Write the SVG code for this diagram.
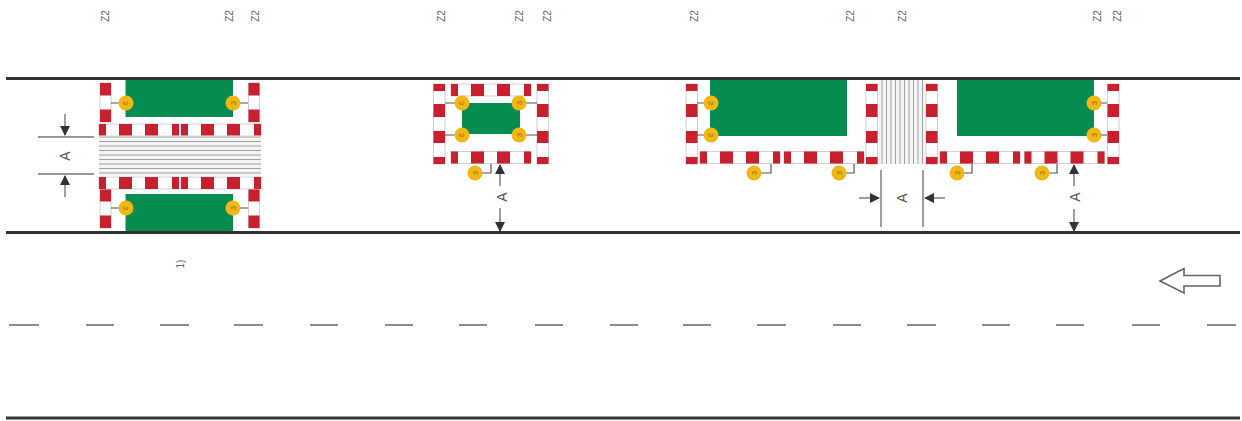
<svg xmlns="http://www.w3.org/2000/svg" width="1242" height="421" viewBox="0 0 1242 421">
<style>
.road{stroke:#333;stroke-width:3;fill:none}
.dash{stroke:#666;stroke-width:1.6;fill:none}
.w{fill:#fff;stroke:#cfcfcf;stroke-width:1}
.r{fill:#c9202f}
.g{fill:#078c50}
.ln{stroke:#a0a0a0;stroke-width:1;fill:none}
.dim{stroke:#777;stroke-width:1.4;fill:none}
.lead{stroke:#555;stroke-width:1.2;fill:none}
.c{fill:#f3b715}
.t{font-family:"Liberation Sans",Arial,sans-serif;fill:#666;text-anchor:middle}
.z{font-size:10px}
.a{font-size:14px;fill:#555}
.n{font-size:8px;fill:#8a6f10}
</style>
<defs>
<marker id="ah" viewBox="0 0 10 10" refX="9" refY="5" markerWidth="10" markerHeight="10" markerUnits="userSpaceOnUse" orient="auto"><path d="M0 0L10 5L0 10Z" fill="#333"/></marker>
<g id="h"><rect class="w" x="0" y="0" width="80" height="12"/><rect class="r" x="0" y="0" width="7" height="12"/><rect class="r" x="20" y="0" width="13" height="12"/><rect class="r" x="46" y="0" width="13" height="12"/><rect class="r" x="73" y="0" width="7" height="12"/></g>
<g id="v"><rect class="w" x="0" y="0" width="11.500" height="80"/><rect class="r" x="0" y="0" width="11.500" height="7"/><rect class="r" x="0" y="20" width="11.500" height="13"/><rect class="r" x="0" y="47" width="11.500" height="12"/><rect class="r" x="0" y="73" width="11.500" height="7"/></g>
<g id="s"><rect class="w" x="0" y="0" width="11" height="39"/><rect class="r" x="0" y="0" width="11" height="12.500"/><rect class="r" x="0" y="26.500" width="11" height="12.500"/></g>
<g id="cl"><circle class="c" r="7.500"/><text class="t n" transform="rotate(90)" y="3">3</text></g>
<g id="cr"><circle class="c" r="7.500"/><text class="t n" transform="rotate(-90)" y="3">3</text></g>
</defs>

<g id="road">
<path class="road" d="M6 78.500H1240M6 232.500H1240M6 418H1240"/>
<path class="dash" d="M9 325H39M86 325H114M160 325H189M234 325H263M310 325H338M385 325H413M459 325H487M535 325H563M610 325H638M683 325H711M757 325H786M833 325H861M907 325H936M982 325H1010M1056 325H1084M1132 325H1160M1207 325H1236"/>
<path id="direction" d="M1160 281L1184 268.500V275.500H1220V286H1184V293Z" fill="#fff" stroke="#666" stroke-width="1.600"/>
</g>

<g id="island-1">
<rect class="g" x="125.500" y="80" width="107.500" height="37"/>
<rect class="g" x="125.500" y="194" width="107.500" height="37"/>
<use href="#s" x="100" y="83"/><use href="#s" x="248.500" y="83"/>
<use href="#s" x="100" y="189"/><use href="#s" x="248.500" y="189"/>
<use href="#h" x="99" y="124"/><use href="#h" x="181" y="124"/>
<use href="#h" x="99" y="177"/><use href="#h" x="181" y="177"/>
<path class="lead" d="M111 103H126M111 208H126M233 103H248M233 208H248"/>
<use href="#cl" x="126" y="103"/><use href="#cr" x="233" y="103"/>
<use href="#cl" x="126" y="208"/><use href="#cr" x="233" y="208"/>
</g>
<g id="crossing-1">
<rect x="99" y="135.500" width="162" height="41" fill="#f4f4f4"/>
<path class="ln" d="M99 137H261M99 141.500H261M99 146H261M99 150.500H261M99 155H261M99 159.500H261M99 164H261M99 168.500H261M99 173H261"/>
</g>

<g id="island-2">
<rect class="g" x="462" y="103" width="58" height="31"/>
<use href="#v" x="433.500" y="84"/><use href="#v" x="537" y="84"/>
<use href="#h" x="451" y="84"/><use href="#h" x="451" y="151.500"/>
<path class="lead" d="M445 103H462M445 135H462M519 103H537M519 135H537M475 173H491V164"/>
<use href="#cl" x="462" y="103"/><use href="#cr" x="519" y="103"/>
<use href="#cl" x="462" y="135"/><use href="#cr" x="519" y="135"/>
<use href="#cr" x="475" y="173"/>
</g>

<g id="island-3">
<rect class="g" x="710" y="80" width="137" height="56"/>
<use href="#v" x="686" y="84"/><use href="#v" x="866" y="84"/>
<use href="#h" x="700" y="151.500"/><use href="#h" x="784" y="151.500"/>
<path class="lead" d="M697 103H711M697 135H711M754 173H771V164M839 173H854V164"/>
<use href="#cl" x="711" y="103"/><use href="#cl" x="711" y="135"/>
<use href="#cr" x="754" y="173"/><use href="#cr" x="839" y="173"/>
</g>
<g id="crossing-2">
<rect x="879" y="80" width="46" height="84" fill="#f4f4f4"/>
<path class="ln" d="M882 80V164M886.500 80V164M891 80V164M895.500 80V164M900 80V164M904.500 80V164M909 80V164M913.500 80V164M918 80V164M922.500 80V164"/>
</g>
<g id="island-4">
<rect class="g" x="957" y="80" width="137" height="56"/>
<use href="#v" x="926" y="84"/><use href="#v" x="1107.500" y="84"/>
<use href="#h" x="940" y="151.500"/><use href="#h" x="1024.500" y="151.500"/>
<path class="lead" d="M1094 103H1107M1094 135H1107M957 173H972V164M1042 173H1057V164"/>
<use href="#cr" x="1094" y="103"/><use href="#cr" x="1094" y="135"/>
<use href="#cr" x="957" y="173"/><use href="#cr" x="1042" y="173"/>
</g>

<g id="connectors">
<path class="dim" d="M38 137H94M38 174H94M881 170V227M923 170V227"/>
<path class="dim" marker-end="url(#ah)" d="M65 114V135"/>
<path class="dim" marker-end="url(#ah)" d="M65 197V176"/>
<path class="dim" marker-end="url(#ah)" d="M500 186V165"/>
<path class="dim" marker-end="url(#ah)" d="M500 208V231"/>
<path class="dim" marker-end="url(#ah)" d="M859 198H879"/>
<path class="dim" marker-end="url(#ah)" d="M945 198H925"/>
<path class="dim" marker-end="url(#ah)" d="M1074 186V165"/>
<path class="dim" marker-end="url(#ah)" d="M1074 209V231"/>
</g>

<g id="labels">
<text class="t a" transform="translate(70 156) rotate(-90)">A</text>
<text class="t a" transform="translate(507 197) rotate(-90)">A</text>
<text class="t a" transform="translate(907 198) rotate(-90)">A</text>
<text class="t a" transform="translate(1080 197) rotate(-90)">A</text>
<text class="t z" transform="translate(108.500 16) rotate(-90)">Z2</text>
<text class="t z" transform="translate(232.500 16) rotate(-90)">Z2</text>
<text class="t z" transform="translate(258.500 16) rotate(-90)">Z2</text>
<text class="t z" transform="translate(444.500 16) rotate(-90)">Z2</text>
<text class="t z" transform="translate(522.500 16) rotate(-90)">Z2</text>
<text class="t z" transform="translate(550.500 16) rotate(-90)">Z2</text>
<text class="t z" transform="translate(697.500 16) rotate(-90)">Z2</text>
<text class="t z" transform="translate(853.500 16) rotate(-90)">Z2</text>
<text class="t z" transform="translate(905.500 16) rotate(-90)">Z2</text>
<text class="t z" transform="translate(1100.500 16) rotate(-90)">Z2</text>
<text class="t z" transform="translate(1120.500 16) rotate(-90)">Z2</text>
<text class="t z" transform="translate(183.500 264) rotate(-90)">1)</text>
</g>
</svg>
